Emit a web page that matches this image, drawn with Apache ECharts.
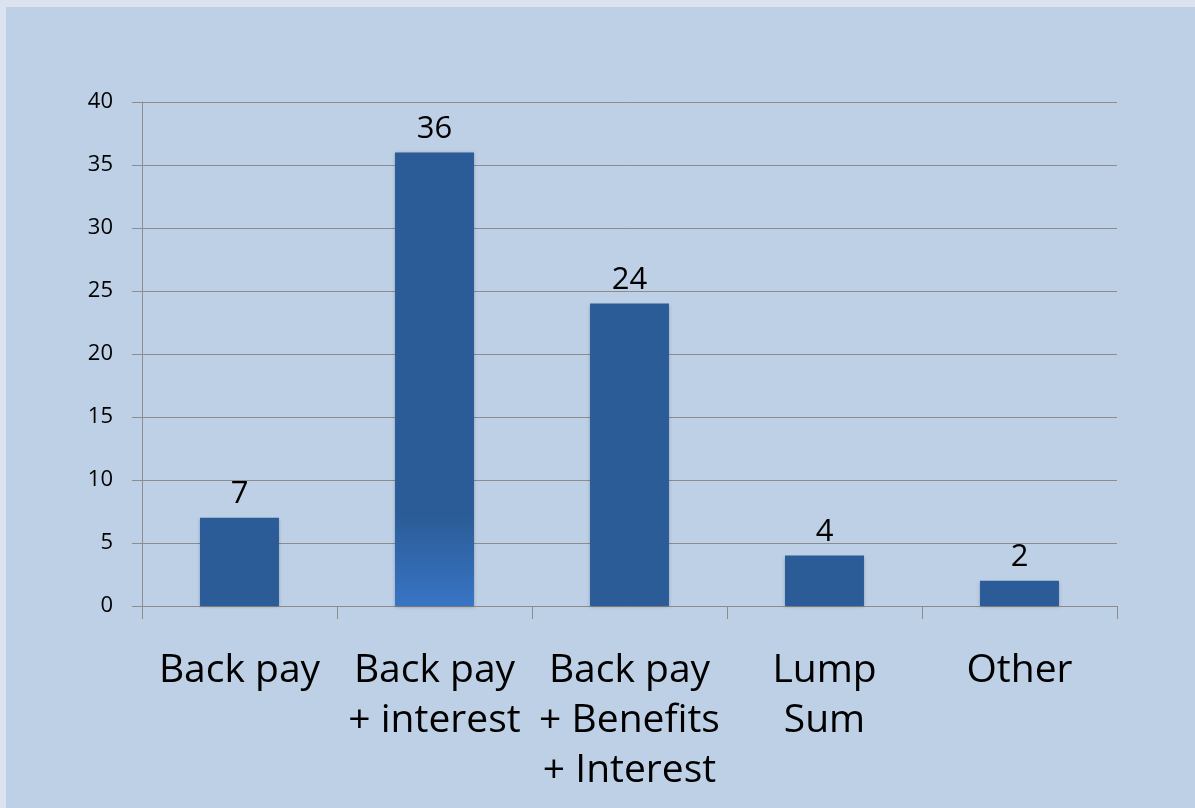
<!DOCTYPE html>
<html><head><meta charset="utf-8">
<script src="https://cdn.jsdelivr.net/npm/echarts@6/dist/echarts.min.js"></script>
<style>
html,body{margin:0;padding:0;background:#dae3ef;width:1195px;height:808px;overflow:hidden}
#frame{position:absolute;left:6px;top:7px;width:1189px;height:801px;background:#bed0e6}
#c{position:absolute;left:0;top:0;width:1195px;height:808px}
</style></head><body>
<div id="frame"></div>
<div id="c"></div>
<script>
const categories = ["Back pay", "Back pay\n+ interest", "Back pay\n+ Benefits\n+ Interest", "Lump\nSum", "Other"];
const values = [7, 36, 24, 4, 2];
const yTicks = [0, 5, 10, 15, 20, 25, 30, 35, 40];

const base = '#2b5c97';
const chart = echarts.init(document.getElementById('c'), null, {renderer: 'canvas'});
const font = '"Open Sans", sans-serif';
chart.setOption({
  backgroundColor: 'transparent',
  animation: false,
  grid: {left: 142, right: 78, top: 102, bottom: 202},
  xAxis: {
    type: 'category',
    data: categories,
    boundaryGap: true,
    axisLine: {lineStyle: {color: '#8c8c8c', width: 1}},
    axisTick: {show: true, length: 13, lineStyle: {color: '#8c8c8c'}, alignWithLabel: false},
    axisLabel: {color: '#000', fontSize: 39, fontFamily: font, lineHeight: 50, margin: 40, interval: 0}
  },
  yAxis: {
    type: 'value',
    min: yTicks[0], max: yTicks[yTicks.length - 1], interval: 5,
    axisLine: {show: true, lineStyle: {color: '#8c8c8c'}},
    axisTick: {show: true, length: 10, lineStyle: {color: '#8c8c8c'}},
    splitLine: {lineStyle: {color: '#8c8c8c', width: 1}},
    axisLabel: {color: '#000', fontSize: 22, fontFamily: font, margin: 29}
  },
  series: [{
    type: 'bar',
    barWidth: '40.5%',
    data: values.map((v, i) => ({
      value: v,
      itemStyle: i === 1 ? {
        color: new echarts.graphic.LinearGradient(0, 0, 0, 1, [
          {offset: 0, color: base}, {offset: 0.8, color: base}, {offset: 1, color: '#3875c4'}
        ])
      } : {color: base}
    })),
    itemStyle: {shadowBlur: 3, shadowColor: 'rgba(0,0,0,0.25)', shadowOffsetY: 1},
    label: {show: true, position: 'top', distance: 8, color: '#000', fontSize: 31, fontFamily: font}
  }]
});
</script></body></html>
